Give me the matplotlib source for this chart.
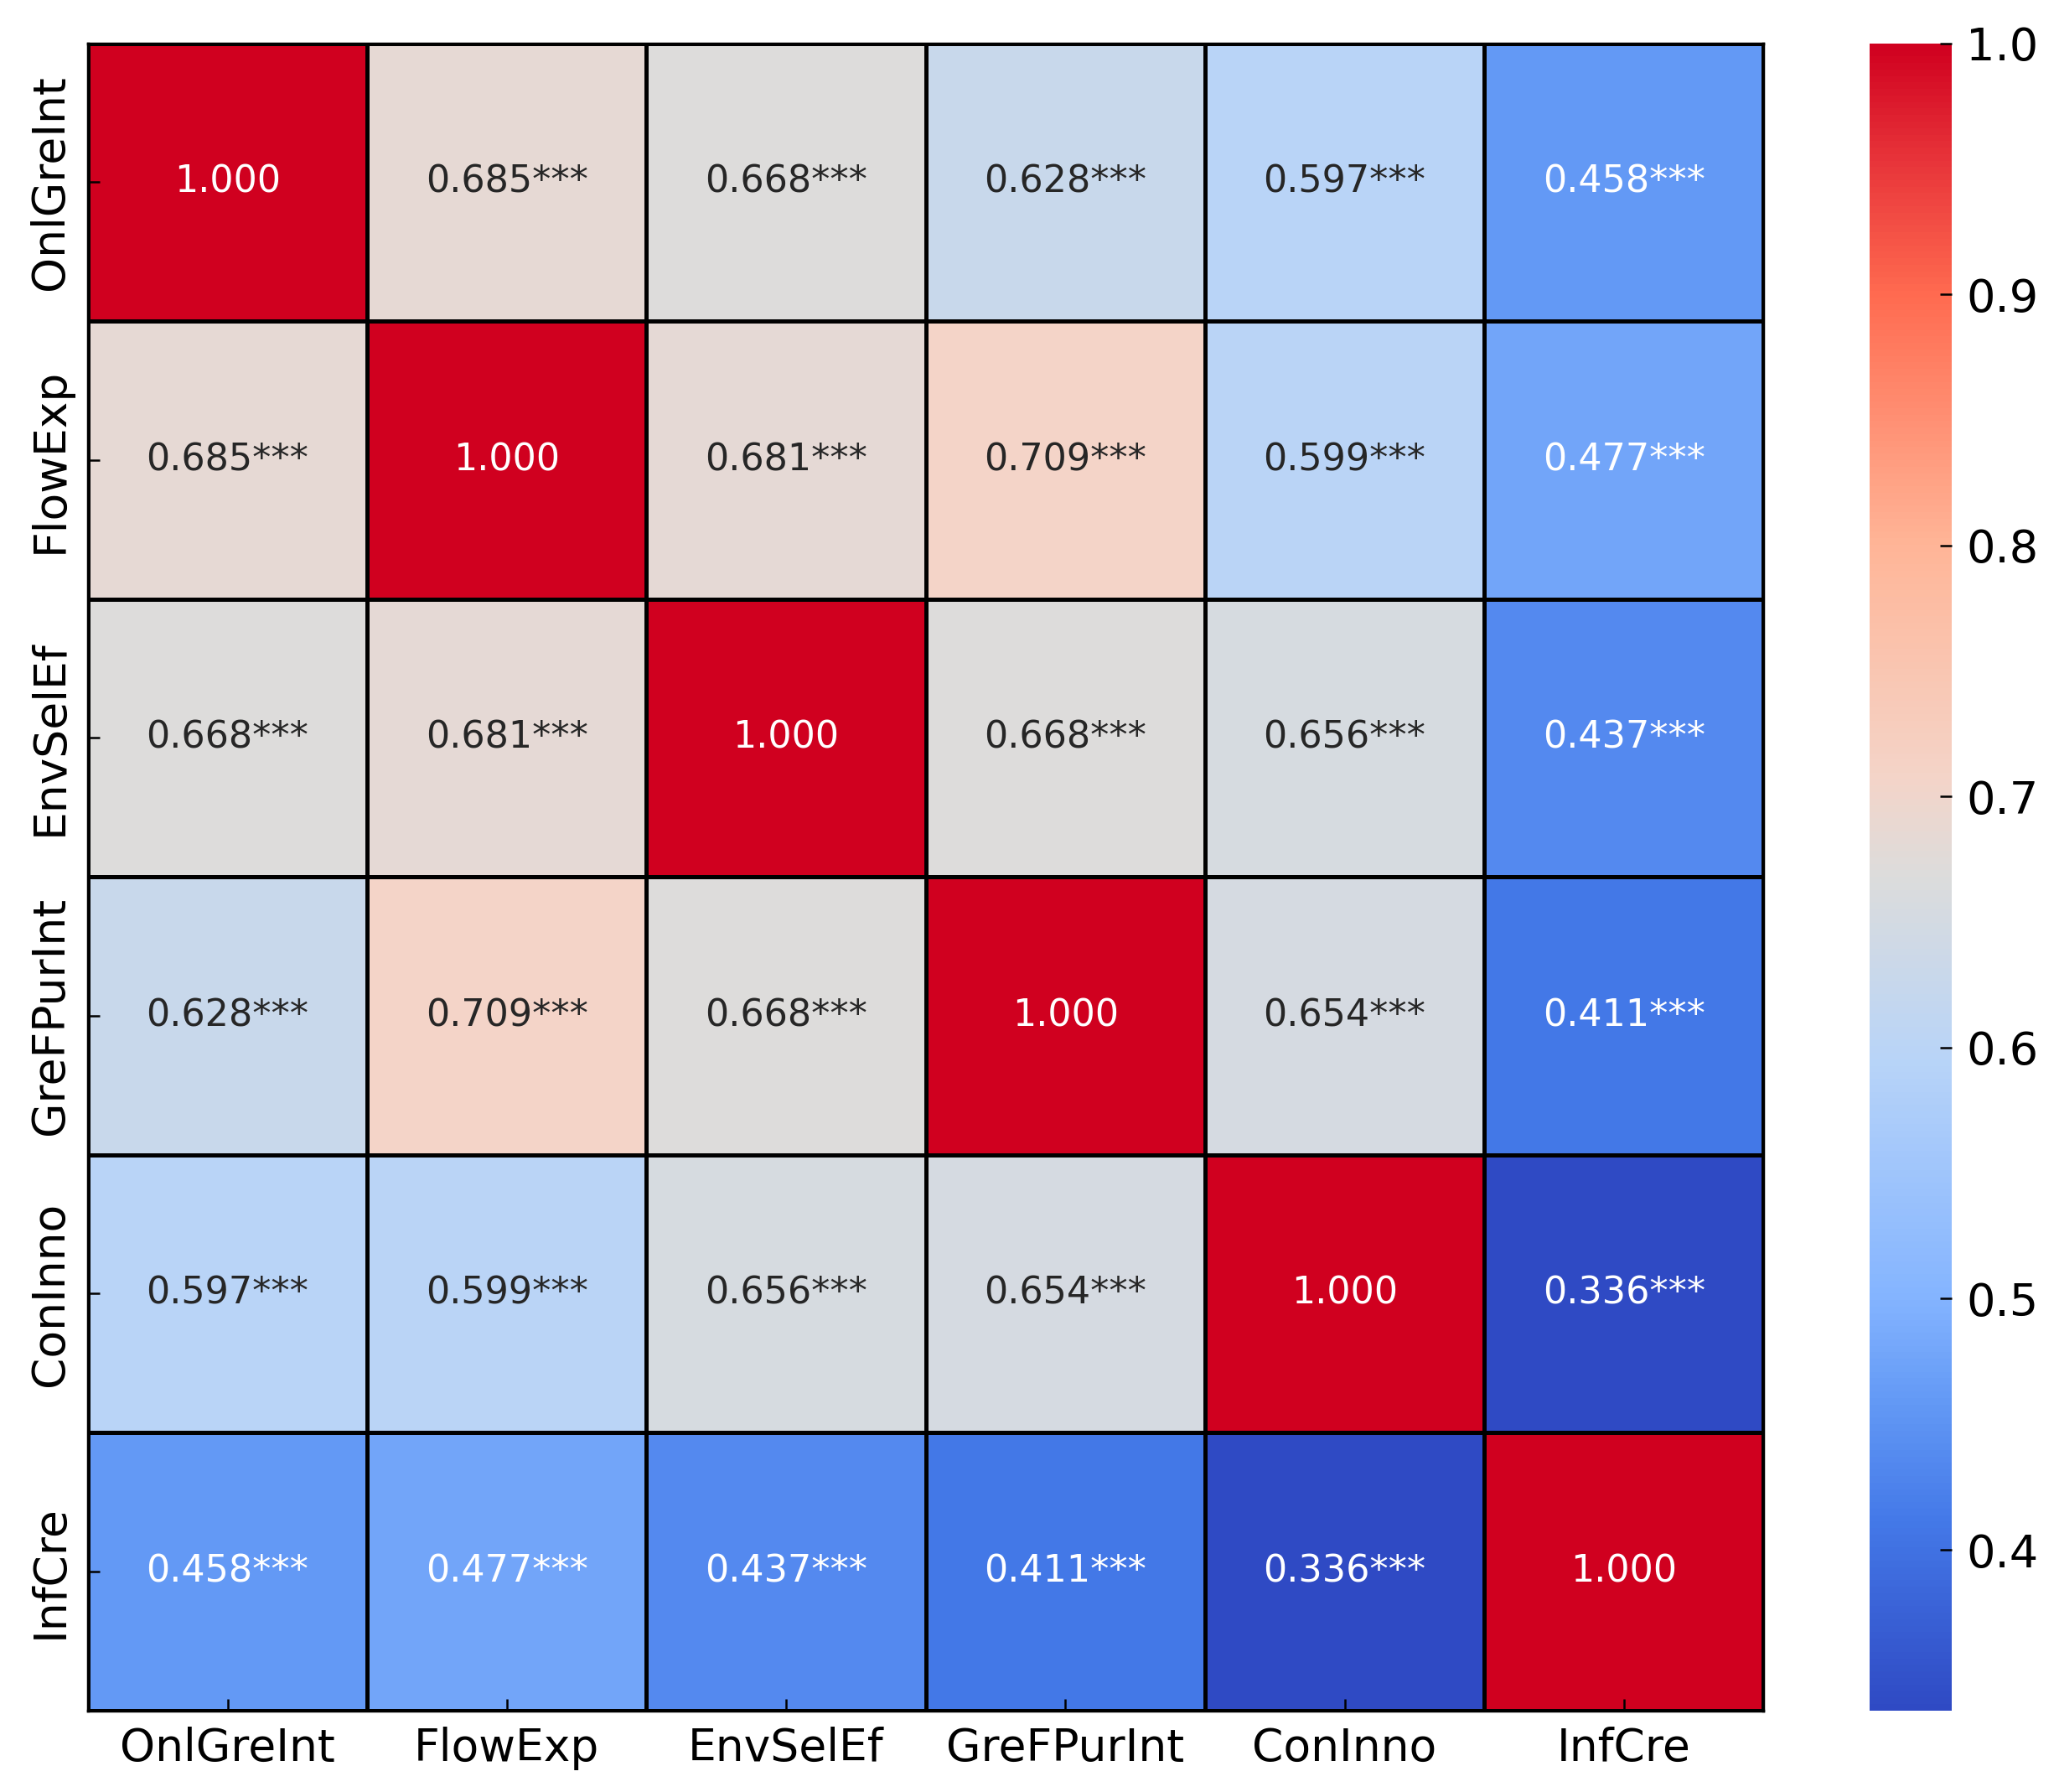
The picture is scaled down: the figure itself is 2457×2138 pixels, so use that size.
import numpy as np
import matplotlib
matplotlib.use("Agg")
import matplotlib.pyplot as plt
from matplotlib.colors import LinearSegmentedColormap, to_rgb

# variables and correlation matrix
labels = ['OnlGreInt', 'FlowExp', 'EnvSelEf', 'GreFPurInt', 'ConInno', 'InfCre']
row_onl = [1.000, 0.685, 0.668, 0.628, 0.597, 0.458]
row_flow = [0.685, 1.000, 0.681, 0.709, 0.599, 0.477]
row_env = [0.668, 0.681, 1.000, 0.668, 0.656, 0.437]
row_gref = [0.628, 0.709, 0.668, 1.000, 0.654, 0.411]
row_con = [0.597, 0.599, 0.656, 0.654, 1.000, 0.336]
row_inf = [0.458, 0.477, 0.437, 0.411, 0.336, 1.000]
stars = '***'

corr = np.array([row_onl, row_flow, row_env, row_gref, row_con, row_inf])
n = len(labels)

# saturated coolwarm-like colormap
cmap = LinearSegmentedColormap.from_list('cw', [
    (0.00, '#2F4AC4'),
    (0.113, '#4479E8'),
    (0.184, '#6399F5'),
    (0.247, '#84B4FF'),
    (0.39, '#B8D4F8'),
    (0.50, '#DCDCDC'),
    (0.56, '#F4D4C8'),
    (0.70, '#FFB597'),
    (0.85, '#FF6B50'),
    (0.93, '#E8353A'),
    (1.00, '#D0001F'),
])
vmin, vmax = corr.min(), corr.max()

fig = plt.figure(figsize=(24.57, 21.38), dpi=100)
ax = fig.add_axes([0.0427, 0.0455, 0.8138, 0.9303])
cax = fig.add_axes([0.908, 0.0455, 0.040, 0.9303])

mesh = ax.pcolormesh(np.arange(n + 1), np.arange(n + 1), corr, cmap=cmap,
                     vmin=vmin, vmax=vmax, edgecolors='black', linewidth=2.2)
ax.set_xlim(0, n)
ax.set_ylim(n, 0)

def lum(c):
    rgb = np.array(to_rgb(c))
    rgb = np.where(rgb <= 0.03928, rgb / 12.92, ((rgb + 0.055) / 1.055) ** 2.4)
    return 0.2126 * rgb[0] + 0.7152 * rgb[1] + 0.0722 * rgb[2]

for i in range(n):
    for j in range(n):
        v = corr[i, j]
        txt = f'{v:.3f}' if i == j else f'{v:.3f}{stars}'
        col = cmap((v - vmin) / (vmax - vmin))
        tc = 'white' if lum(col) < 0.408 else '#262626'
        ax.text(j + 0.5, i + 0.5, txt, ha='center', va='center',
                fontsize=32, color=tc)

ax.set_xticks(np.arange(n) + 0.5)
ax.set_yticks(np.arange(n) + 0.5)
ax.set_xticklabels(labels, fontsize=38.5)
ax.set_yticklabels(labels, fontsize=38.5, rotation=90, va='center')
ax.tick_params(direction='in', length=10, width=1.8, pad=14)
for s in ax.spines.values():
    s.set_linewidth(2.5)

cb = fig.colorbar(mesh, cax=cax)
cb.outline.set_visible(False)
cb.set_ticks([0.4, 0.5, 0.6, 0.7, 0.8, 0.9, 1.0])
cb.ax.tick_params(direction='in', length=10, width=1.8, pad=12, labelsize=39)

fig.savefig('out.png', dpi=100)
